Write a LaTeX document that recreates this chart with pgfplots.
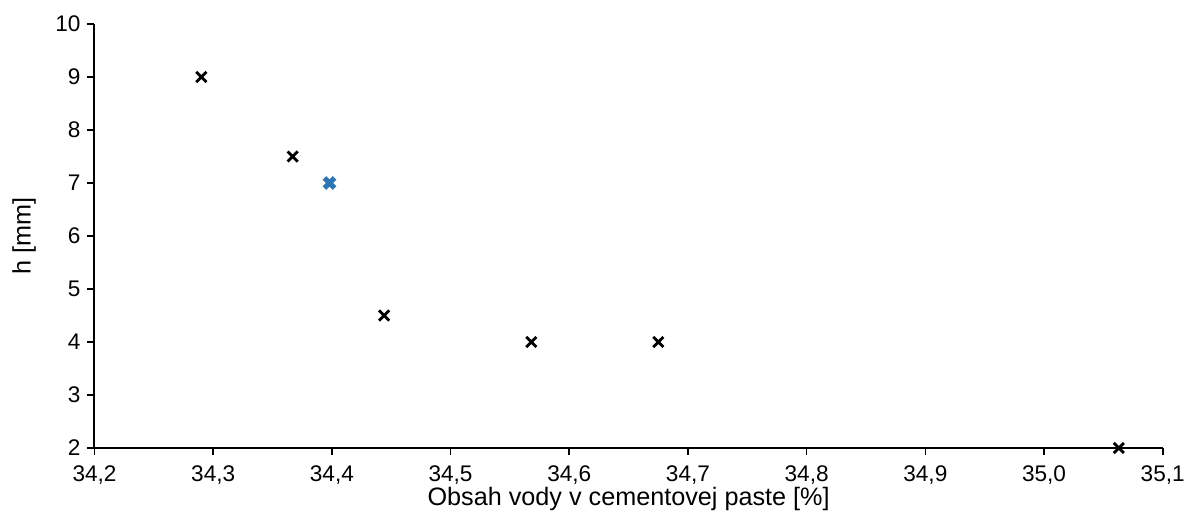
\documentclass[border=0pt]{standalone}
\usepackage{pgfplots}
\pgfplotsset{compat=1.18}
\usepackage{fontspec}
\setmainfont{Liberation Sans}
\definecolor{xblue}{HTML}{2E75B6}
\begin{document}
\begin{tikzpicture}
\begin{axis}[
  scale only axis,
  width=534.1pt, height=212pt,
  xmin=34.2, xmax=35.1, ymin=2, ymax=10,
  axis lines*=left,
  axis line style={line width=1pt, black},
  xtick={34.2,34.3,...,35.11},
  ytick={2,3,...,10},
  tick align=outside,
  major tick length=3.5pt,
  tick style={line width=0.8pt, black},
  /pgf/number format/assume math mode=true,
  xticklabel style={/pgf/number format/fixed, /pgf/number format/fixed zerofill, /pgf/number format/precision=1, /pgf/number format/use comma, inner sep=1pt},
  xticklabel shift=4pt,
  ticklabel style={font=\fontsize{11.3}{13}\selectfont},
  xlabel={Obsah vody v cementovej paste [\%]},
  ylabel={h [mm]},
  every axis x label/.style={at={(axis description cs:0.5,-0.121)}, anchor=center, inner sep=0pt, font=\fontsize{12.6}{14}\selectfont},
  every axis y label/.style={at={(axis description cs:-0.066,0.5)}, rotate=90, anchor=center, font=\fontsize{12.6}{14}\selectfont},
  clip=false,
]
\addplot[only marks, mark=x, mark size=3.6pt, mark options={line width=1.4pt, black}] coordinates {
  (34.29,9) (34.367,7.5) (34.444,4.5) (34.568,4) (34.675,4) (35.063,2)
};
\addplot[only marks, mark=x, mark size=3.6pt, mark options={line width=2.5pt, xblue}] coordinates {
  (34.398,7)
};
\end{axis}
\pgfresetboundingbox
\path (current axis.south west) ++(-47.25pt,-35.5pt) coordinate (bbsw);
\path (current axis.north east) ++(11.15pt,12pt) coordinate (bbne);
\path[use as bounding box] (bbsw) rectangle (bbne);
\end{tikzpicture}
\end{document}
